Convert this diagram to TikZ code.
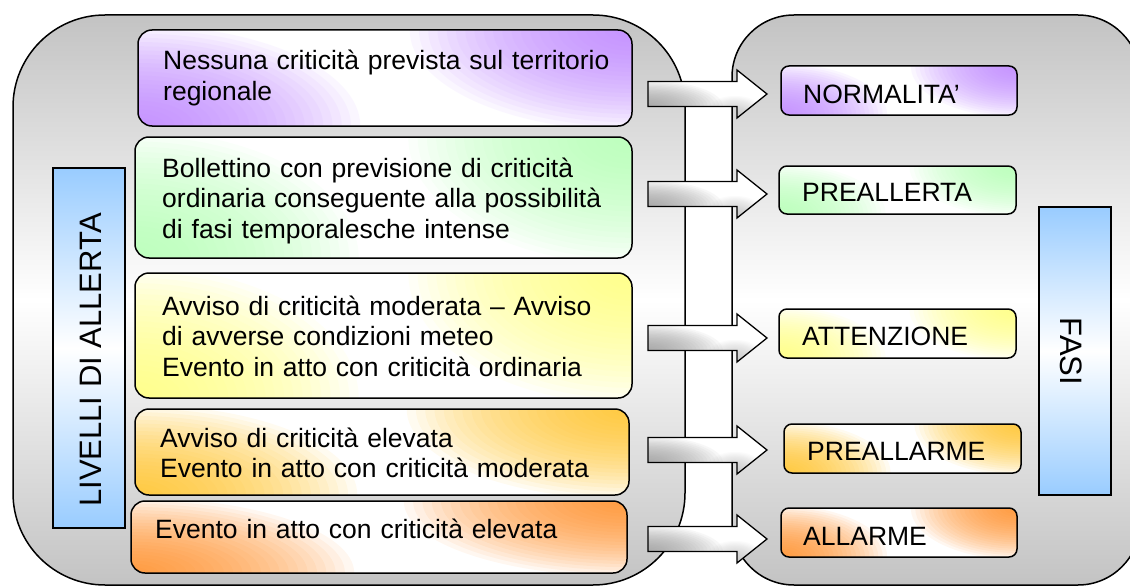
\documentclass[tikz,border=0pt]{standalone}
\usepackage{fontspec}
\setmainfont{Liberation Sans}
\usetikzlibrary{calc}
\definecolor{cpurple}{RGB}{190,130,255}
\definecolor{cgreen}{RGB}{180,255,180}
\definecolor{cyellow}{RGB}{255,255,120}
\definecolor{cgold}{RGB}{255,195,30}
\definecolor{corange}{RGB}{255,140,30}
\definecolor{cblue}{RGB}{153,204,255}
\definecolor{cgray}{RGB}{195,195,195}
\begin{document}
\begin{tikzpicture}[x=1pt,y=-1pt,
  outline/.style={draw=black,line width=1.5pt},
  container/.style={outline,top color=cgray,bottom color=cgray,middle color=white,inner sep=0pt},
  glow/.style={fill=white,path picture={
    \foreach \k in {1,...,24}{
      \fill[#1,opacity=0.065]
        let \p1=(path picture bounding box.south west), \p2=(path picture bounding box.north east) in
        (\p1) ellipse [x radius={0.45*abs(\x2-\x1)*\k/24}, y radius={1.05*abs(\y2-\y1)*\k/24}];
      \fill[#1,opacity=0.065]
        let \p1=(path picture bounding box.south west), \p2=(path picture bounding box.north east) in
        (\p2) ellipse [x radius={0.45*abs(\x2-\x1)*\k/24}, y radius={1.05*abs(\y2-\y1)*\k/24}];
    }
  }},
  levelbox/.style={outline,rounded corners=14pt,inner sep=0pt,glow=#1},
  phasebox/.style={outline,rounded corners=8pt,inner sep=0pt,glow=#1},
  bluebox/.style={outline,inner sep=0pt,top color=cblue,bottom color=cblue,middle color=white},
  leveltext/.style={font=\fontsize{26.5}{30.5}\selectfont,inner sep=0pt,anchor=base west,
    text width=470pt,align=left},
  phasetext/.style={font=\fontsize{26.5}{30.5}\selectfont,inner sep=0pt,anchor=base west},
  bluetext/.style={font=\fontsize{31}{35}\selectfont,inner sep=0pt},
  arrowstyle/.style={draw=black,line width=1.3pt,line join=miter,fill=white,
    path picture={
      \foreach \k in {1,...,20}{
        \fill[gray!80,opacity=0.07]
          ($(path picture bounding box.south west)+(0,-11.5)$) ellipse [x radius={75*\k/20}, y radius={26*\k/20}];
        \fill[gray!60,opacity=0.05]
          ($(path picture bounding box.south east)+(-32,0)$) ellipse [x radius={32*\k/20}, y radius={22*\k/20}];
      }
    }},
  blockarrow/.pic={\path[arrowstyle] (0,-12.5) -- (89,-12.5) -- (89,-24) -- (119,0)
     -- (89,24) -- (89,12.5) -- (0,12.5) -- cycle;}
]
\useasboundingbox (0,0) rectangle (1130,586);
\fill[white] (0,0) rectangle (1130,586);

% containers
\node[container,rounded corners=92pt,minimum width=672pt,minimum height=570pt] (leftc) at (349,300) {};
\node[container,rounded corners=62pt,minimum width=408pt,minimum height=570pt] (rightc) at (936,300) {};

% level boxes
\node[levelbox=cpurple,minimum width=494pt,minimum height=96pt] (l1) at (385,78) {};
\node[levelbox=cgreen,minimum width=497pt,minimum height=121pt] (l2) at (383.5,197.5) {};
\node[levelbox=cyellow,minimum width=497pt,minimum height=125pt] (l3) at (383.5,335.5) {};
\node[levelbox=cgold,minimum width=494pt,minimum height=86pt] (l4) at (382,452) {};
\node[levelbox=corange,minimum width=496pt,minimum height=72pt] (l5) at (379,537) {};

\node[leveltext] (t1) at (163,70) {Nessuna criticità prevista sul territorio\\regionale};
\node[leveltext] (t2) at (162,177) {Bollettino con previsione di criticità\\ordinaria conseguente alla possibilità\\di fasi temporalesche intense};
\node[leveltext] (t3) at (162,315) {Avviso di criticità moderata – Avviso\\di avverse condizioni meteo\\Evento in atto con criticità ordinaria};
\node[leveltext] (t4) at (160,447) {Avviso di criticità elevata\\Evento in atto con criticità moderata};
\node[leveltext] (t5) at (155,538) {Evento in atto con criticità elevata};

% phase boxes
\node[phasebox=cpurple,minimum width=236pt,minimum height=49pt] (p1) at (899,90.5) {};
\node[phasebox=cgreen,minimum width=237pt,minimum height=48pt] (p2) at (897.5,190) {};
\node[phasebox=cyellow,minimum width=237pt,minimum height=49pt] (p3) at (897.5,333.5) {};
\node[phasebox=cgold,minimum width=237pt,minimum height=49pt] (p4) at (902.5,448.5) {};
\node[phasebox=corange,minimum width=236pt,minimum height=49pt] (p5) at (899,532.5) {};

\node[phasetext] (pt1) at (803,103.3) {NORMALITA’};
\node[phasetext] (pt2) at (802,201.7) {PREALLERTA};
\node[phasetext] (pt3) at (802,345) {ATTENZIONE};
\node[phasetext] (pt4) at (807,460.7) {PREALLARME};
\node[phasetext] (pt5) at (803,545) {ALLARME};

% blue label boxes
\node[bluebox,minimum width=72pt,minimum height=360pt] (livb) at (89,348) {};
\node[bluetext,rotate=90] (livt) at (91,360) {LIVELLI DI ALLERTA};
\node[bluebox,minimum width=72pt,minimum height=288pt] (fasb) at (1075,351) {};
\node[bluetext,rotate=-90] (fast) at (1071.5,351.5) {FASI};

% block arrows
\coordinate (a1) at (648,94);
\coordinate (a2) at (648,194);
\coordinate (a3) at (648,338);
\coordinate (a4) at (648,450);
\coordinate (a5) at (648,539);
\pic at (a1) {blockarrow};
\pic at (a2) {blockarrow};
\pic at (a3) {blockarrow};
\pic at (a4) {blockarrow};
\pic at (a5) {blockarrow};
\end{tikzpicture}
\end{document}
